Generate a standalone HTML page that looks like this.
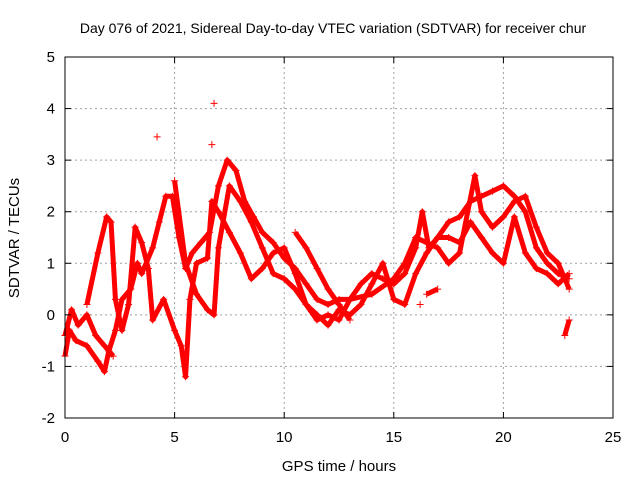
<!DOCTYPE html>
<html><head><meta charset="utf-8">
<style>
body{margin:0;background:#fff;}
svg{display:block;font-family:"Liberation Sans",sans-serif;}
</style></head>
<body>
<svg id="chart" width="640" height="480" viewBox="0 0 640 480" xmlns="http://www.w3.org/2000/svg">
<rect width="640" height="480" fill="#fff"/>
<text x="333" y="33" font-size="14" text-anchor="middle">Day 076 of 2021, Sidereal Day-to-day VTEC variation (SDTVAR) for receiver chur</text>
<g id="grid"></g>
<g id="marks"></g>
<rect x="65" y="57" width="548" height="361" fill="none" stroke="#000" stroke-width="1"/>
<g id="ticks"></g>
<text x="339" y="471" font-size="15" text-anchor="middle">GPS time / hours</text>
<text transform="translate(19,238) rotate(-90)" font-size="15" text-anchor="middle">SDTVAR / TECUs</text>
</svg>
<script>
const xTicks=[0,5,10,15,20,25];
const yTicks=[-2,-1,0,1,2,3,4,5];
const trackA=[[0,-0.8],[0.2,-0.3],[0.5,-0.5],[1,-0.6],[1.5,-0.9],[1.8,-1.1],[2,-0.7],[2.3,-0.3],[2.6,0.3],[3,0.5],[3.3,1],[3.5,0.8],[4,1.3],[4.3,1.8],[4.6,2.3],[4.9,2.3],[5.2,1.5],[5.5,0.9],[5.8,1.2],[6.2,1.4],[6.6,1.6],[7,2.5],[7.4,3.0],[7.8,2.8],[8.2,2.2],[8.6,1.9],[9,1.6],[9.5,1.4],[10,1.1],[10.5,0.9],[11,0.6],[11.5,0.3],[12,0.2],[12.5,0.3],[13,0.3],[13.5,0.6],[14,0.8],[14.5,0.7],[15,0.6],[15.5,0.8],[16,1.3],[16.3,2.0],[16.6,1.3],[17,1.5],[17.5,1.8],[18,1.9],[18.5,2.2],[19,2.3],[19.5,2.4],[20,2.5],[20.5,2.3],[21,2.0],[21.5,1.3],[22,1.0],[22.5,0.8],[23,0.7]];
const trackB=[[1,0.2],[1.5,1.2],[1.9,1.9],[2.1,1.8],[2.3,0.3],[2.6,-0.3],[2.9,0.2],[3.2,1.7],[3.5,1.4],[3.8,0.9],[4,-0.1],[4.5,0.3],[5,-0.3],[5.3,-0.6],[5.5,-1.2],[5.7,0.3],[6,1.0],[6.5,1.1],[6.7,2.2],[7,2.0],[7.5,1.6],[8,1.2],[8.5,0.7],[9,0.9],[9.5,1.2],[10,1.3],[10.5,0.8],[11,0.2],[11.5,0.0],[12,-0.2],[12.5,0.1],[13,0.0],[13.5,0.2],[14,0.6],[14.5,1.0],[15,0.3],[15.5,0.2],[16,0.8],[16.5,1.2],[17,1.5],[17.5,1.5],[18,1.4],[18.5,1.8],[19,1.5],[19.5,1.2],[20,1.0],[20.5,1.9],[21,1.2],[21.5,0.9],[22,0.8],[22.5,0.6],[23,0.8]];
const trackC=[[5,2.6],[5.5,1.0],[6,0.4],[6.5,0.1],[6.8,0.0],[7,1.3],[7.5,2.5],[8,2.2],[8.5,1.8],[9,1.3],[9.5,0.8],[10,0.7],[10.5,0.5],[11,0.2],[11.5,-0.1],[12,0.0],[12.5,-0.1],[13,0.3],[14,0.4],[15,0.7],[15.5,1.0],[16,1.5],[17,1.3],[17.5,1.0],[18,1.2],[18.7,2.7],[19,2.0],[19.5,1.7],[20,1.9],[20.5,2.2],[21,2.3],[21.5,1.7],[22,1.2],[22.5,1.0],[23,0.5]];
const trackD=[[10.5,1.6],[11,1.3],[11.5,0.9],[12,0.5],[12.5,0.2],[13,-0.1]];
const trackE=[[0,-0.4],[0.3,0.1],[0.6,-0.2],[1,0.0],[1.4,-0.4],[1.8,-0.6],[2.2,-0.8]];
const trackF=[[16.5,0.4],[17,0.5]];
const trackG=[[22.8,-0.4],[23,-0.1]];
const outliers=[[4.2,3.45],[6.8,4.1],[6.7,3.3],[16.2,0.2]];
const tracks=[trackA,trackB,trackC,trackD,trackE,trackF,trackG];
const X0=65,X1=613,Y0=418,Y1=57;
function xs(v){return X0+(v-0)/(25-0)*(X1-X0);}
function ys(v){return Y0-(v+2)/(7)*(Y0-Y1);}
const NS='http://www.w3.org/2000/svg';
const grid=document.getElementById('grid'),ticks=document.getElementById('ticks'),marks=document.getElementById('marks');
function mk(tag,attrs,parent){const e=document.createElementNS(NS,tag);for(const k in attrs)e.setAttribute(k,attrs[k]);parent.appendChild(e);return e;}
xTicks.forEach(t=>{
  const x=xs(t);
  if(t>0&&t<25){const g=mk('line',{x1:x,x2:x,y1:Y1,y2:Y0,stroke:'#a0a0a0','stroke-dasharray':'2,3','stroke-width':1},grid);
  
  }
  const l=mk('text',{x:x,y:Y0+24,'font-size':15,'text-anchor':'middle'},ticks);l.textContent=t;
  
  
  mk('line',{x1:x,x2:x,y1:Y0,y2:Y0-6,stroke:'#000'},ticks);
  mk('line',{x1:x,x2:x,y1:Y1,y2:Y1+6,stroke:'#000'},ticks);
});
yTicks.forEach(t=>{
  const y=ys(t);
  if(t>-2&&t<5){const g=mk('line',{x1:X0,x2:X1,y1:y,y2:y,stroke:'#a0a0a0','stroke-dasharray':'2,3','stroke-width':1},grid);
  
  }
  const l=mk('text',{x:X0-10,y:y+5,'font-size':15,'text-anchor':'end'},ticks);l.textContent=t;
  
  
  mk('line',{x1:X0,x2:X0+6,y1:y,y2:y,stroke:'#000'},ticks);
  mk('line',{x1:X1,x2:X1-6,y1:y,y2:y,stroke:'#000'},ticks);
});
tracks.forEach(tr=>{
  const p=mk('polyline',{points:tr.map(d=>xs(d[0])+','+ys(d[1])).join(' '),fill:'none',stroke:'#f00','stroke-width':5,'stroke-linejoin':'round'},marks);
  
  
  tr.forEach(d=>{
    const x=xs(d[0]),y=ys(d[1]);
    const m=mk('path',{d:`M${x-3.5},${y}H${x+3.5}M${x},${y-3.5}V${y+3.5}`,stroke:'#f00','stroke-width':1},marks);
    
    
  });
});
outliers.forEach(d=>{
  const x=xs(d[0]),y=ys(d[1]);
  const m=mk('path',{d:`M${x-3.5},${y}H${x+3.5}M${x},${y-3.5}V${y+3.5}`,stroke:'#f00','stroke-width':1},marks);
  
  
});
</script>
</body></html>
